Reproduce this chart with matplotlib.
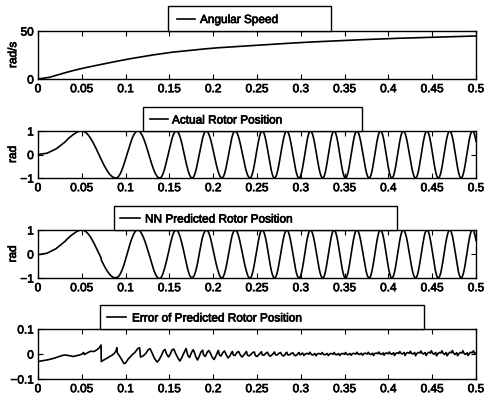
import numpy as np
import matplotlib
matplotlib.use("Agg")
import matplotlib.pyplot as plt
import matplotlib.patheffects as pe
from matplotlib.patches import Rectangle
from matplotlib.lines import Line2D

plt.rcParams['font.family'] = ['Liberation Sans', 'DejaVu Sans']

# ---------------- data ----------------
speed_t = [0.0, 0.0125, 0.025, 0.0375, 0.05, 0.075, 0.1, 0.125, 0.15, 0.175,
           0.2, 0.25, 0.3, 0.35, 0.4, 0.45, 0.5]
speed_v = [0.0, 1.6, 5.0, 8.2, 11.0, 15.8, 20.3, 24.2, 27.6, 30.0,
           32.2, 35.2, 38.0, 40.2, 42.1, 43.5, 44.8]

# early part of rotor position (before first peak)
pos_start_t = [0.0, 0.01, 0.02, 0.03, 0.04]
pos_start_v = [0.0, 0.05, 0.22, 0.50, 0.84]
# times of the peaks (+1) and troughs (-1) of the rotor position
pos_peak_t = [0.050, 0.114, 0.158, 0.192, 0.225, 0.256, 0.284, 0.311, 0.338,
              0.364, 0.391, 0.417, 0.444, 0.470, 0.496]
pos_trough_t = [0.089, 0.139, 0.176, 0.210, 0.242, 0.270, 0.298, 0.325, 0.351,
                0.378, 0.404, 0.431, 0.457, 0.483]

# error of predicted rotor position
err_t = [0.000, 0.005, 0.010, 0.015, 0.020, 0.025, 0.030, 0.035, 0.040, 0.045,
         0.050, 0.052, 0.053, 0.056, 0.060, 0.064, 0.067, 0.070, 0.072, 0.0722,
         0.076, 0.080, 0.084, 0.087, 0.089, 0.090, 0.0905, 0.093, 0.096, 0.098,
         0.100, 0.103, 0.107, 0.111, 0.114, 0.116, 0.117, 0.120, 0.123, 0.126,
         0.128, 0.130, 0.133, 0.136, 0.138, 0.141, 0.143, 0.145, 0.147, 0.149,
         0.151, 0.153, 0.155, 0.157, 0.160, 0.162, 0.164, 0.166, 0.168, 0.169,
         0.171, 0.173, 0.175, 0.177, 0.178, 0.180, 0.182, 0.184, 0.186, 0.188,
         0.189, 0.191, 0.193, 0.195, 0.197, 0.199, 0.201, 0.203, 0.205, 0.206,
         0.207, 0.209, 0.211, 0.213, 0.215, 0.217, 0.219, 0.221, 0.222, 0.223,
         0.225, 0.227, 0.229, 0.231, 0.233, 0.235, 0.237, 0.238, 0.239, 0.241,
         0.243, 0.245, 0.247, 0.248, 0.250, 0.252, 0.254, 0.255, 0.256, 0.258,
         0.260, 0.262, 0.263, 0.265, 0.267, 0.269, 0.270, 0.271, 0.273, 0.275,
         0.277, 0.278, 0.280, 0.282, 0.283, 0.284, 0.285, 0.287, 0.289, 0.291,
         0.292, 0.294, 0.296, 0.297, 0.298, 0.299,
         0.300, 0.302, 0.3035, 0.305, 0.307, 0.309, 0.3105, 0.312, 0.314, 0.316,
         0.3175, 0.319, 0.321, 0.323, 0.3245, 0.326, 0.328, 0.330, 0.3315, 0.333,
         0.335, 0.337, 0.338, 0.3395, 0.341, 0.343, 0.3445, 0.346, 0.348, 0.350,
         0.351, 0.3525, 0.354, 0.356, 0.3575, 0.359, 0.361, 0.363, 0.364, 0.3655,
         0.367, 0.369, 0.3705, 0.372, 0.374, 0.376, 0.377, 0.3785, 0.380, 0.382,
         0.383, 0.3845, 0.386, 0.388, 0.389, 0.3905, 0.392, 0.394, 0.395, 0.3965,
         0.398, 0.400, 0.401, 0.4025, 0.404, 0.406, 0.407, 0.4085, 0.410, 0.412,
         0.413, 0.4145, 0.416, 0.418, 0.419, 0.4205, 0.422, 0.424, 0.425, 0.4265,
         0.428, 0.430, 0.431, 0.4325, 0.434, 0.436, 0.437, 0.4385, 0.440, 0.442,
         0.443, 0.4445, 0.446, 0.448, 0.449, 0.4505, 0.452, 0.454, 0.455, 0.4565,
         0.458, 0.460, 0.461, 0.4625, 0.464, 0.466, 0.467, 0.4685, 0.470, 0.472,
         0.473, 0.4745, 0.476, 0.478, 0.479, 0.4805, 0.482, 0.484, 0.485, 0.4865,
         0.488, 0.490, 0.491, 0.4925, 0.494, 0.496, 0.497, 0.4985, 0.500]
err_v = [-0.030, -0.027, -0.024, -0.020, -0.015, -0.009, -0.004, -0.006, -0.010, -0.006,
         -0.001, 0.006, -0.002, 0.004, 0.011, 0.010, 0.016, 0.025, 0.036, -0.030,
         -0.022, -0.014, -0.006, 0.002, 0.012, 0.025, 0.005, -0.008, -0.025, -0.038,
         -0.036, -0.020, -0.005, 0.008, 0.022, 0.025, -0.012, -0.008, 0.002, 0.018,
         0.021, 0.006, -0.018, -0.032, -0.025, -0.005, 0.012, 0.018, -0.002, -0.012,
         0.000, 0.016, 0.020, 0.003, -0.018, -0.028, -0.015, 0.000, 0.016, 0.022,
         -0.005, -0.014, 0.004, 0.017, 0.012, -0.010, -0.024, -0.010, 0.008, 0.015,
         -0.004, -0.010, 0.006, 0.014, 0.002, -0.014, -0.022, -0.008, 0.008, 0.014,
         -0.004, -0.008, 0.006, 0.012, -0.004, -0.016, -0.008, 0.006, 0.010, -0.004,
         -0.006, 0.006, 0.010, -0.004, -0.012, -0.004, 0.006, 0.010, -0.004, -0.008,
         -0.002, 0.006, 0.008, -0.006, -0.010, -0.003, 0.005, 0.009, -0.004, -0.005,
         0.003, 0.007, -0.002, -0.009, -0.004, 0.004, 0.008, -0.003, -0.004, 0.003,
         0.006, -0.002, -0.008, -0.003, 0.004, 0.007, -0.003, -0.004, 0.002, 0.005,
         -0.002, -0.007, -0.002, 0.003, 0.006, -0.003,
         -0.002, 0.004, -0.006, 0.000, 0.003, -0.001, 0.007, -0.002, -0.004, 0.002,
         -0.007, 0.001, 0.002, -0.001, 0.006, -0.002, -0.003, 0.002, -0.006, 0.001,
         0.002, -0.001, 0.006, -0.002, -0.003, 0.002, -0.006, 0.001, 0.002, -0.001,
         0.006, -0.001, -0.003, 0.002, -0.005, 0.002, 0.002, 0.000, 0.007, 0.000,
         -0.002, 0.003, -0.005, 0.002, 0.003, 0.000, 0.007, 0.000, -0.002, 0.003,
         -0.006, 0.002, 0.004, 0.001, 0.008, 0.001, -0.001, 0.004, -0.005, 0.003,
         0.004, 0.001, 0.008, 0.001, -0.001, 0.005, -0.006, 0.002, 0.005, 0.002,
         0.010, 0.002, 0.000, 0.006, -0.006, 0.003, 0.006, 0.003, 0.011, 0.002,
         0.000, 0.006, -0.007, 0.002, 0.006, 0.004, 0.012, 0.003, 0.000, 0.006,
         -0.006, 0.002, 0.007, 0.004, 0.013, 0.003, -0.001, 0.006, -0.007, 0.001,
         0.006, 0.004, 0.013, 0.003, -0.002, 0.006, -0.007, 0.001, 0.007, 0.005,
         0.014, 0.003, -0.002, 0.005, -0.007, 0.001, 0.006, 0.004, 0.013, 0.002,
         -0.002, 0.005, -0.006, 0.002, 0.007, 0.005, 0.013, 0.003, 0.004]

x_ticks = [0, 0.05, 0.1, 0.15, 0.2, 0.25, 0.3, 0.35, 0.4, 0.45, 0.5]
x_tick_labels = ['0', '0.05', '0.1', '0.15', '0.2', '0.25', '0.3', '0.35',
                 '0.4', '0.45', '0.5']
legend_labels = ['Angular Speed', 'Actual Rotor Position',
                 'NN Predicted Rotor Position', 'Error of Predicted Rotor Position']
y_labels = ['rad/s', 'rad', 'rad', '']
y_ticks = [[0, 50], [-1, 0, 1], [-1, 0, 1], [-0.1, 0, 0.1]]
y_tick_labels = [['0', '50'], ['\u22121', '0', '1'], ['\u22121', '0', '1'],
                 ['\u22120.1', '0', '0.1']]
y_lims = [(0, 50), (-1, 1), (-1, 1), (-0.1, 0.1)]

# ---------------- derived curves ----------------
t = np.linspace(0, 0.5, 5001)
ext_t = np.sort(np.array(pos_peak_t + pos_trough_t))
ext_phase = np.pi / 2 + np.pi * np.arange(len(ext_t))
anch_t = np.concatenate([pos_start_t, ext_t])
anch_p = np.concatenate([np.arcsin(pos_start_v), ext_phase])
slope = (anch_p[-1] - anch_p[-2]) / (anch_t[-1] - anch_t[-2])
anch_t = np.append(anch_t, 0.5)
anch_p = np.append(anch_p, anch_p[-1] + slope * (0.5 - ext_t[-1]))
position = np.sin(np.interp(t, anch_t, anch_p))
speed = np.interp(t, speed_t, speed_v)
error = np.interp(t, err_t, err_v)
nn_position = position + error

series = [(t, speed), (t, position), (t, nn_position), (np.array(err_t), np.array(err_v))]

# ---------------- layout (pixels) ----------------
W, H = 486, 394
fig = plt.figure(figsize=(W / 100, H / 100), dpi=100)
ax_px = [(31, 79), (131, 178), (230, 278), (329, 379)]  # top, bottom
ax_left, ax_right = 38, 476
leg_px = [  # x0, x1, y_top, y_bottom, line_x0, line_x1, text_x
    (168, 331, 6, 31, 177, 195, 200),
    (143, 362, 107, 131, 150, 168, 172),
    (114, 397, 206, 230, 120, 140, 145),
    (100, 424, 305, 329, 107, 126, 132),
]

FS = 8.5
bold = [pe.withStroke(linewidth=0.5, foreground='black')]
for i in range(4):
    top, bot = ax_px[i]
    ax = fig.add_axes([ax_left / W, 1 - bot / H, (ax_right - ax_left) / W, (bot - top) / H])
    x, y = series[i]
    ax.plot(x, y, color='black', lw=1.2)
    ax.set_xlim(0, 0.5)
    ax.set_ylim(*y_lims[i])
    ax.set_xticks(x_ticks)
    ax.set_xticklabels(x_tick_labels)
    ax.set_yticks(y_ticks[i])
    ax.set_yticklabels(y_tick_labels[i])
    ax.tick_params(direction='in', top=True, right=True, length=3.5, width=0.8,
                   labelsize=FS, pad=3, colors='black')
    for lab in ax.get_xticklabels() + ax.get_yticklabels():
        lab.set_path_effects(bold)
    for s in ax.spines.values():
        s.set_linewidth(1.0)
    if y_labels[i]:
        ax.set_ylabel(y_labels[i], fontsize=FS, labelpad=1, path_effects=bold)

    x0, x1, yt, yb, lx0, lx1, tx = leg_px[i]
    rect = Rectangle((x0 / W, 1 - yb / H), (x1 - x0) / W, (yb - yt) / H,
                     transform=fig.transFigure, facecolor='white', edgecolor='black',
                     lw=1.0, zorder=5)
    fig.add_artist(rect)
    yc = 1 - ((yt + yb) / 2) / H
    fig.add_artist(Line2D([lx0 / W, lx1 / W], [yc, yc], transform=fig.transFigure,
                          color='black', lw=1.2, zorder=6))
    fig.text(tx / W, yc, legend_labels[i], fontsize=FS, va='center_baseline',
             ha='left', zorder=6, path_effects=bold)

fig.savefig('out.png', dpi=100)
